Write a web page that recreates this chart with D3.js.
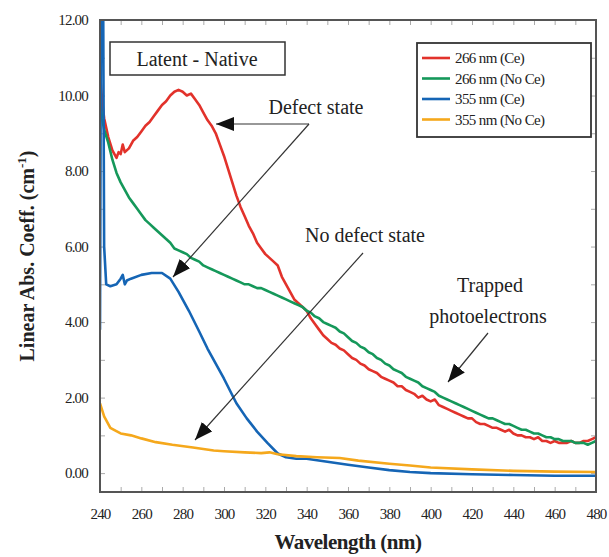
<!DOCTYPE html>
<html>
<head>
<meta charset="utf-8">
<script src="https://cdnjs.cloudflare.com/ajax/libs/d3/7.8.5/d3.min.js"></script>
<style>
  body { margin: 0; background: #fff; }
  text { font-family: "Liberation Serif", "DejaVu Serif", serif; fill: #222; }
</style>
</head>
<body>
<div id="chart"></div>
<script>
var svgWidth = 609;
var svgHeight = 557;

var margin = { top: 20, right: 13, bottom: 65, left: 100 };
var width = svgWidth - margin.left - margin.right;
var height = svgHeight - margin.top - margin.bottom;

// series data: [wavelength nm, coefficient cm^-1]
var red266Ce = [[240,10.6],[241,9.9],[242,9.4],[244,8.9],[246,8.55],[248,8.35],[249,8.5],[250,8.45],[251,8.7],[252,8.5],[254,8.6],[256,8.8],[258,8.9],[260,9.05],[262,9.2],[264,9.3],[266,9.45],[268,9.6],[270,9.75],[272,9.85],[274,10.0],[276,10.1],[278,10.15],[280,10.1],[282,10.0],[284,10.05],[286,9.9],[288,9.75],[290,9.55],[292,9.35],[294,9.2],[296,9.0],[298,8.7],[300,8.4],[302,8.05],[304,7.7],[306,7.35],[308,7.05],[310,6.8],[312,6.55],[314,6.35],[316,6.1],[318,5.95],[320,5.8],[322,5.7],[324,5.6],[326,5.5],[328,5.2],[330,5.0],[332,4.8],[334,4.6],[336,4.5],[338,4.4],[340,4.3],[342,4.1],[344,3.95],[346,3.8],[348,3.65],[350,3.55],[352,3.45],[354,3.4],[356,3.3],[358,3.25],[360,3.15],[362,3.05],[364,3.0],[366,2.9],[368,2.85],[370,2.75],[372,2.7],[374,2.65],[376,2.55],[378,2.5],[380,2.45],[382,2.4],[384,2.3],[386,2.3],[388,2.2],[390,2.15],[392,2.1],[394,2.0],[396,2.05],[398,1.95],[400,1.9],[402,1.95],[404,1.8],[406,1.75],[408,1.7],[410,1.65],[412,1.6],[414,1.55],[416,1.5],[418,1.45],[420,1.45],[422,1.35],[424,1.3],[426,1.3],[428,1.25],[430,1.2],[432,1.2],[434,1.15],[436,1.1],[438,1.15],[440,1.05],[442,1.0],[444,1.0],[446,0.95],[448,0.95],[450,0.9],[452,0.95],[454,0.85],[456,0.85],[458,0.8],[460,0.85],[462,0.8],[464,0.8],[466,0.8],[468,0.85],[470,0.8],[472,0.8],[474,0.85],[476,0.85],[478,0.9],[480,0.95]];

var green266NoCe = [[240,9.9],[241,9.4],[242,9.1],[244,8.75],[246,8.3],[248,7.95],[250,7.7],[252,7.5],[254,7.3],[256,7.15],[258,7.0],[260,6.85],[262,6.7],[264,6.6],[266,6.5],[268,6.4],[270,6.3],[272,6.2],[274,6.1],[276,5.95],[278,5.9],[280,5.85],[282,5.8],[284,5.7],[286,5.65],[288,5.6],[290,5.5],[292,5.45],[294,5.4],[296,5.35],[298,5.3],[300,5.25],[302,5.2],[304,5.15],[306,5.1],[308,5.05],[310,5.0],[312,5.0],[314,4.95],[316,4.9],[318,4.9],[320,4.85],[322,4.8],[324,4.75],[326,4.7],[328,4.65],[330,4.6],[332,4.55],[334,4.5],[336,4.45],[338,4.4],[340,4.3],[342,4.25],[344,4.15],[346,4.1],[348,4.0],[350,3.95],[352,3.9],[354,3.85],[356,3.75],[358,3.7],[360,3.6],[362,3.5],[364,3.45],[366,3.35],[368,3.3],[370,3.2],[372,3.15],[374,3.05],[376,3.0],[378,2.9],[380,2.85],[382,2.75],[384,2.7],[386,2.65],[388,2.55],[390,2.5],[392,2.45],[394,2.4],[396,2.3],[398,2.25],[400,2.2],[402,2.15],[404,2.05],[406,2.0],[408,1.95],[410,1.9],[412,1.85],[414,1.8],[416,1.75],[418,1.7],[420,1.65],[422,1.6],[424,1.55],[426,1.5],[428,1.45],[430,1.45],[432,1.4],[434,1.35],[436,1.3],[438,1.3],[440,1.25],[442,1.2],[444,1.15],[446,1.15],[448,1.1],[450,1.05],[452,1.05],[454,1.0],[456,0.95],[458,0.95],[460,0.9],[462,0.9],[464,0.85],[466,0.85],[468,0.85],[470,0.8],[472,0.8],[474,0.8],[476,0.75],[478,0.8],[480,0.85]];

var blue355Ce = [[240,3.8],[240.5,13],[241.5,13],[242,6.0],[243,5.0],[245,4.95],[248,5.0],[250,5.15],[251,5.25],[252,5.0],[253,5.1],[255,5.15],[260,5.25],[265,5.3],[270,5.3],[274,5.15],[278,4.8],[283,4.3],[288,3.75],[292,3.3],[296,2.9],[300,2.5],[306,1.85],[311,1.45],[316,1.1],[321,0.8],[326,0.52],[330,0.42],[335,0.38],[340,0.38],[350,0.3],[360,0.22],[370,0.15],[380,0.08],[390,0.03],[400,0.0],[420,-0.03],[440,-0.05],[460,-0.07],[480,-0.07]];

var orange355NoCe = [[240,1.85],[242,1.5],[245,1.2],[247,1.14],[250,1.05],[255,1.0],[260,0.92],[267,0.82],[275,0.75],[285,0.68],[295,0.6],[300,0.58],[310,0.55],[318,0.53],[322,0.55],[326,0.5],[335,0.45],[345,0.42],[356,0.4],[365,0.33],[380,0.25],[390,0.2],[400,0.15],[420,0.1],[440,0.06],[460,0.04],[480,0.03]];

var seriesNames = ["266 nm (Ce)", "266 nm (No Ce)", "355 nm (Ce)", "355 nm (No Ce)"];
var seriesColors = ["#e2322b", "#15985a", "#1565b5", "#f5a81c"];
var seriesData = [red266Ce, green266NoCe, blue355Ce, orange355NoCe];

var xMajorTicks = [240, 260, 280, 300, 320, 340, 360, 380, 400, 420, 440, 460, 480];
var yMajorTicks = [0, 2, 4, 6, 8, 10, 12];

var svg = d3.select("#chart").append("svg")
    .attr("width", svgWidth)
    .attr("height", svgHeight);

var defs = svg.append("defs");
defs.append("clipPath").attr("id", "plotClip")
    .append("rect").attr("width", width).attr("height", height);

defs.append("marker")
    .attr("id", "arrowHead")
    .attr("markerUnits", "userSpaceOnUse")
    .attr("viewBox", "0 0 18 14")
    .attr("refX", 18).attr("refY", 7)
    .attr("markerWidth", 18).attr("markerHeight", 14)
    .attr("orient", "auto")
    .append("path").attr("d", "M0,0 L18,7 L0,14 Z").attr("fill", "#111");

var chartGroup = svg.append("g")
    .attr("transform", `translate(${margin.left}, ${margin.top})`);

var xScale = d3.scaleLinear().domain([240, 480]).range([0, width]);
var yScale = d3.scaleLinear().domain([-0.5, 12]).range([height, 0]);

// ticks, inward on all four sides
function tickAxis(axis, tickVals, size) {
    return axis.tickValues(tickVals).tickSizeInner(-size).tickSizeOuter(0).tickFormat("");
}
var xMinor = d3.range(240, 481, 10);
var yMinor = d3.range(0, 12.01, 1);

chartGroup.append("g").attr("transform", `translate(0, ${height})`).call(tickAxis(d3.axisBottom(xScale), xMinor, 5));
chartGroup.append("g").call(tickAxis(d3.axisTop(xScale), xMinor, 5));
chartGroup.append("g").call(tickAxis(d3.axisLeft(yScale), yMinor, 5));
chartGroup.append("g").attr("transform", `translate(${width}, 0)`).call(tickAxis(d3.axisRight(yScale), yMinor, 5));
chartGroup.selectAll(".domain").remove();
chartGroup.selectAll(".tick line").attr("stroke", "#aaa").attr("stroke-width", 1);

// tick labels
var xLabels = chartGroup.append("g").attr("transform", `translate(0, ${height})`)
    .call(d3.axisBottom(xScale).tickValues(xMajorTicks).tickSize(0).tickPadding(16));
xLabels.select(".domain").remove();
xLabels.selectAll("text").attr("font-family", "Liberation Serif").attr("font-size", 15).attr("fill", "#222")
    .attr("letter-spacing", "-0.8px");

var yLabels = chartGroup.append("g")
    .call(d3.axisLeft(yScale).tickValues(yMajorTicks).tickSize(0).tickPadding(12).tickFormat(d3.format(".2f")));
yLabels.select(".domain").remove();
yLabels.selectAll("text").attr("font-family", "Liberation Serif").attr("font-size", 15).attr("fill", "#222")
    .attr("letter-spacing", "-0.8px");

// curves
var line = d3.line()
    .x(d => xScale(d[0]))
    .y(d => yScale(d[1]));

var curves = chartGroup.append("g").attr("clip-path", "url(#plotClip)");
curves.selectAll("path")
    .data(seriesData)
    .enter()
    .append("path")
    .attr("d", line)
    .attr("fill", "none")
    .attr("stroke", (d, i) => seriesColors[i])
    .attr("stroke-width", 2.6)
    .attr("stroke-linejoin", "round");

// frame
chartGroup.append("rect")
    .attr("width", width).attr("height", height)
    .attr("fill", "none").attr("stroke", "#555").attr("stroke-width", 2);

// "Latent - Native" box
svg.append("rect").attr("x", 110).attr("y", 42).attr("width", 175).attr("height", 33)
    .attr("fill", "#fff").attr("stroke", "#333").attr("stroke-width", 1.5);
svg.append("text").attr("x", 197).attr("y", 66).attr("text-anchor", "middle")
    .attr("font-size", 20).text("Latent - Native");

// legend
var legend = svg.append("g").attr("transform", "translate(417, 43)");
legend.append("rect").attr("width", 174).attr("height", 94)
    .attr("fill", "#fff").attr("stroke", "#333").attr("stroke-width", 1.8);
var legendRows = legend.selectAll(".row").data(seriesNames).enter().append("g")
    .attr("transform", (d, i) => `translate(0, ${15 + i * 20.5})`);
legendRows.append("line").attr("x1", 5).attr("x2", 33)
    .attr("stroke", (d, i) => seriesColors[i]).attr("stroke-width", 2.6);
legendRows.append("text").attr("x", 38).attr("y", 5).attr("font-size", 15)
    .attr("letter-spacing", "-0.6px").text(d => d);

// annotations
svg.append("text").attr("x", 316).attr("y", 114).attr("text-anchor", "middle")
    .attr("font-size", 20).text("Defect state");
svg.append("path").attr("d", "M309,124 L216,124")
    .attr("fill", "none").attr("stroke", "#333").attr("stroke-width", 1.2).attr("marker-end", "url(#arrowHead)");
svg.append("path").attr("d", "M309,124 L173,277")
    .attr("fill", "none").attr("stroke", "#333").attr("stroke-width", 1.2).attr("marker-end", "url(#arrowHead)");

svg.append("text").attr("x", 365).attr("y", 242).attr("text-anchor", "middle")
    .attr("font-size", 20).text("No defect state");
svg.append("path").attr("d", "M363,253 L195,440")
    .attr("fill", "none").attr("stroke", "#333").attr("stroke-width", 1.2).attr("marker-end", "url(#arrowHead)");

svg.append("text").attr("x", 490).attr("y", 292).attr("text-anchor", "middle")
    .attr("font-size", 20).text("Trapped");
svg.append("text").attr("x", 488).attr("y", 323).attr("text-anchor", "middle")
    .attr("font-size", 20).text("photoelectrons");
svg.append("path").attr("d", "M488,333 L448,382")
    .attr("fill", "none").attr("stroke", "#333").attr("stroke-width", 1.2).attr("marker-end", "url(#arrowHead)");

// axis titles
svg.append("text").attr("x", margin.left + width / 2).attr("y", 549).attr("text-anchor", "middle")
    .attr("font-size", 21).attr("font-weight", "bold").attr("letter-spacing", "-0.5px").text("Wavelength (nm)");

var yTitle = svg.append("text")
    .attr("transform", `translate(34, ${margin.top + height / 2}) rotate(-90)`)
    .attr("text-anchor", "middle").attr("font-size", 20).attr("font-weight", "bold");
yTitle.append("tspan").text("Linear Abs. Coeff. (cm");
yTitle.append("tspan").attr("font-size", 13).attr("dy", -8).text("-1");
yTitle.append("tspan").attr("dy", 8).text(")");
</script>
</body>
</html>
